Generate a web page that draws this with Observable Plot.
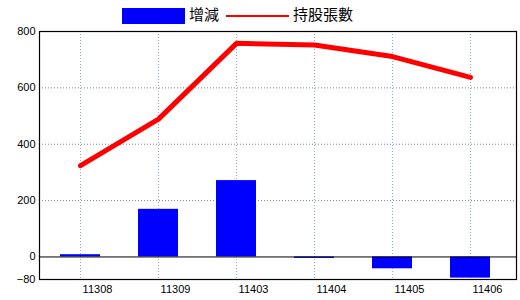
<!DOCTYPE html>
<html><head><meta charset="utf-8">
<script src="https://cdn.jsdelivr.net/npm/d3@7"></script>
<script src="https://cdn.jsdelivr.net/npm/@observablehq/plot@0.6"></script>
<style>
body{margin:0;background:#fff;}
#legend{position:relative;height:24px;width:520px;font-family:"Noto Sans CJK TC",sans-serif;font-size:15px;}
#legend .sw{position:absolute;left:122px;top:8px;width:63px;height:16px;background:#0000ff;}
#legend .t1{position:absolute;left:189px;top:3px;line-height:22px;}
#legend .ln{position:absolute;left:226px;top:15px;width:63px;height:2px;background:#ff0000;}
#legend .t2{position:absolute;left:293px;top:3px;line-height:22px;}
</style></head>
<body>
<div id="legend"><div class="sw"></div><div class="t1">增減</div><div class="ln"></div><div class="t2">持股張數</div></div>
<div id="chart"></div>
<script>
const categories = ["11308","11309","11403","11404","11405","11406"];
const changeValues = [8, 169, 271, -5, -42, -75];
const holdingValues = [324, 489, 758, 752, 711, 637];
const yTicks = [-80, 0, 200, 400, 600, 800];
const seriesNames = ["增減", "持股張數"];

const rows = categories.map((c, i) => ({cat: c, change: changeValues[i], hold: holdingValues[i]}));

const chart = Plot.plot({
  width: 520,
  height: 276,
  marginTop: 7,
  marginLeft: 39,
  marginRight: 4,
  marginBottom: 21,
  style: {fontFamily: "Liberation Sans, Arial, sans-serif", fontSize: "11px", color: "#000", background: "#fff"},
  x: {domain: categories, range: [41, 509], paddingInner: 0.487, paddingOuter: 0.2435, axis: null},
  y: {domain: [-80, 800], axis: null},
  marks: [
    Plot.ruleY([200, 400, 600], {stroke: "#888", strokeDasharray: "1,2", strokeWidth: 1}),
    Plot.ruleX(categories, {x: d => d, stroke: "#8fb0c8", strokeDasharray: "1,2", strokeWidth: 1}),
    Plot.barY(rows, {x: "cat", y: "change", fill: "#0000ff"}),
    Plot.ruleY([0], {stroke: "#000", strokeWidth: 1}),
    Plot.line(rows, {x: "cat", y: "hold", stroke: "#ff0000", strokeWidth: 5, strokeLinecap: "round", strokeLinejoin: "round"}),
    Plot.frame({stroke: "#000", strokeWidth: 1.2}),
    Plot.axisY(yTicks, {tickSize: 0, tickPadding: 4, fill: "#000", label: null}),
    Plot.axisX(categories, {tickSize: 0, tickPadding: 6, dx: 17, fill: "#000", label: null})
  ]
});
document.getElementById("chart").appendChild(chart);
</script>
</body></html>
